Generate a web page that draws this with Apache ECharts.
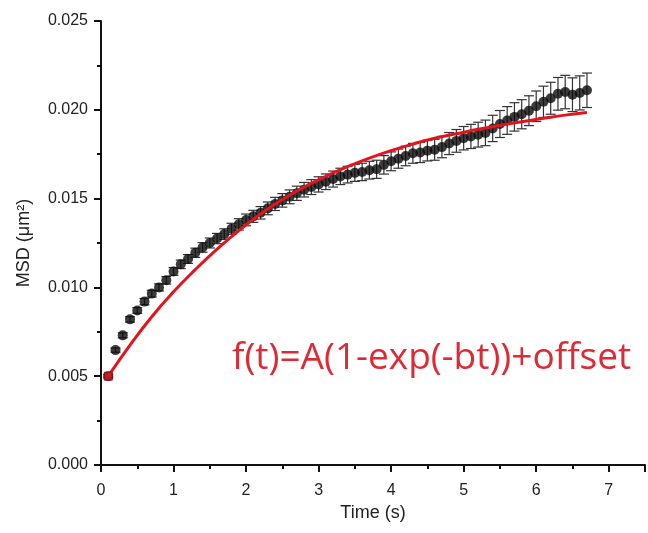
<!DOCTYPE html>
<html>
<head>
<meta charset="utf-8">
<script src="https://cdn.jsdelivr.net/npm/echarts@6/dist/echarts.min.js"></script>
<style>
  html, body { margin: 0; padding: 0; background: #fff; }
  #chart { width: 648px; height: 533px; }
</style>
</head>
<body>
<div id="chart"></div>
<script>
// Time points (s)
const timeS = [
  0.1, 0.2, 0.3, 0.4, 0.5, 0.6, 0.7, 0.8, 0.9, 1.0,
  1.1, 1.2, 1.3, 1.4, 1.5, 1.6, 1.7, 1.8, 1.9, 2.0,
  2.1, 2.2, 2.3, 2.4, 2.5, 2.6, 2.7, 2.8, 2.9, 3.0,
  3.1, 3.2, 3.3, 3.4, 3.5, 3.6, 3.7, 3.8, 3.9, 4.0,
  4.1, 4.2, 4.3, 4.4, 4.5, 4.6, 4.7, 4.8, 4.9, 5.0,
  5.1, 5.2, 5.3, 5.4, 5.5, 5.6, 5.7, 5.8, 5.9, 6.0,
  6.1, 6.2, 6.3, 6.4, 6.5, 6.6, 6.7
];
// Mean squared displacement (um^2)
const msd = [
  0.00500, 0.00647, 0.00730, 0.00820, 0.00870, 0.00920, 0.00965, 0.01000, 0.01040, 0.01090,
  0.01130, 0.01160, 0.01195, 0.01225, 0.01250, 0.01275, 0.01300, 0.01330, 0.01355, 0.01380,
  0.01400, 0.01420, 0.01445, 0.01470, 0.01490, 0.01510, 0.01530, 0.01550, 0.01565, 0.01580,
  0.01595, 0.01610, 0.01625, 0.01635, 0.01645, 0.01650, 0.01660, 0.01665, 0.01690, 0.01710,
  0.01725, 0.01740, 0.01755, 0.01760, 0.01770, 0.01775, 0.01790, 0.01810, 0.01825, 0.01840,
  0.01850, 0.01860, 0.01870, 0.01895, 0.01920, 0.01940, 0.01960, 0.01975, 0.01995, 0.02020,
  0.02045, 0.02065, 0.02090, 0.02100, 0.02085, 0.02095, 0.02110
];
// Standard error of each MSD value (um^2)
const msdErr = [
  0.00010, 0.00012, 0.00014, 0.00015, 0.00016, 0.00018, 0.00019, 0.00020, 0.00021, 0.00022,
  0.00024, 0.00025, 0.00026, 0.00027, 0.00028, 0.00029, 0.00030, 0.00031, 0.00032, 0.00033,
  0.00034, 0.00035, 0.00036, 0.00037, 0.00038, 0.00039, 0.00040, 0.00041, 0.00042, 0.00043,
  0.00044, 0.00045, 0.00046, 0.00047, 0.00048, 0.00049, 0.00050, 0.00051, 0.00052, 0.00053,
  0.00054, 0.00055, 0.00056, 0.00057, 0.00058, 0.00059, 0.00060, 0.00062, 0.00064, 0.00066,
  0.00068, 0.00070, 0.00072, 0.00074, 0.00076, 0.00078, 0.00080, 0.00082, 0.00084, 0.00086,
  0.00088, 0.00090, 0.00092, 0.00094, 0.00095, 0.00096, 0.00097
];
// Fitted curve f(t) = A(1-exp(-bt)) + offset, sampled every 0.3 s
const fitT = [0.1, 0.4, 0.7, 1.0, 1.3, 1.6, 1.9, 2.2, 2.5, 2.8, 3.1, 3.4, 3.7, 4.0, 4.3, 4.6, 4.9, 5.2, 5.5, 5.8, 6.1, 6.4, 6.7];
const fitMsd = [
  0.00500, 0.00675, 0.00835, 0.00975, 0.01100, 0.01215, 0.01320, 0.01413, 0.01495, 0.01565,
  0.01625, 0.01680, 0.01728, 0.01770, 0.01807, 0.01840, 0.01865, 0.01890, 0.01912, 0.01933,
  0.01952, 0.01970, 0.01985
];
const xLabels = [0, 1, 2, 3, 4, 5, 6, 7];
const fitLabel = 'f(t)=A(1-exp(-bt))+offset';

const points = timeS.map((t, i) => [t, msd[i]]);
const bars = timeS.map((t, i) => [t, msd[i] - msdErr[i], msd[i] + msdErr[i]]);
const fitLine = fitT.map((t, i) => [t, fitMsd[i]]);

const axisFont = { fontFamily: 'Liberation Sans, Arial, sans-serif', color: '#222' };

const chart = echarts.init(document.getElementById('chart'), null, { renderer: 'canvas' });
chart.setOption({
  animation: false,
  backgroundColor: '#fff',
  grid: { left: 101, right: 0.5, top: 21, bottom: 68, containLabel: false },
  xAxis: [
    {
      type: 'value', min: 0, max: 7.5, interval: 0.5,
      name: 'Time (s)', nameLocation: 'middle', nameGap: 39,
      nameTextStyle: Object.assign({ fontSize: 18 }, axisFont),
      axisLine: { show: true, onZero: false, lineStyle: { color: '#111', width: 2 } },
      axisTick: { show: true, length: 4, lineStyle: { color: '#111', width: 2 } },
      axisLabel: {
        fontSize: 16, margin: 18, ...axisFont,
        formatter: v => (xLabels.indexOf(v) >= 0 ? String(v) : '')
      },
      splitLine: { show: false }
    },
    {
      type: 'value', min: 0, max: 7.5, interval: 1, position: 'bottom',
      axisLine: { show: false },
      axisTick: { show: true, length: 7, lineStyle: { color: '#111', width: 2 } },
      axisLabel: { show: false },
      splitLine: { show: false }
    }
  ],
  yAxis: {
    type: 'value', min: 0, max: 0.025, interval: 0.005,
    name: 'MSD (μm²)', nameLocation: 'middle', nameGap: 68,
    nameTextStyle: Object.assign({ fontSize: 18 }, axisFont),
    axisLine: { show: true, lineStyle: { color: '#111', width: 2 } },
    axisTick: { show: true, length: 7, lineStyle: { color: '#111', width: 2 } },
    minorTick: { show: true, splitNumber: 2, length: 4, lineStyle: { color: '#111', width: 2 } },
    axisLabel: { fontSize: 16, margin: 13, ...axisFont, formatter: v => v.toFixed(3) },
    splitLine: { show: false }
  },
  graphic: [{
    type: 'text', left: 232, top: 340, z: 100,
    style: {
      text: fitLabel, fill: '#de2a35',
      font: '37px "Open Sans", "Noto Sans", sans-serif'
    }
  }],
  series: [
    {
      name: 'error', type: 'custom', z: 2,
      data: bars,
      renderItem: (params, api) => {
        const t = api.value(0);
        const lo = api.coord([t, api.value(1)]);
        const hi = api.coord([t, api.value(2)]);
        const cap = 5;
        const style = { stroke: '#333', lineWidth: 1.2 };
        return {
          type: 'group',
          children: [
            { type: 'line', shape: { x1: lo[0], y1: lo[1], x2: hi[0], y2: hi[1] }, style },
            { type: 'line', shape: { x1: hi[0] - cap, y1: hi[1], x2: hi[0] + cap, y2: hi[1] }, style },
            { type: 'line', shape: { x1: lo[0] - cap, y1: lo[1], x2: lo[0] + cap, y2: lo[1] }, style }
          ]
        };
      },
      encode: { x: 0, y: [1, 2] }
    },
    {
      name: 'MSD', type: 'scatter', z: 3,
      data: points, symbol: 'circle', symbolSize: 10,
      itemStyle: { color: '#0a0a0a' }
    },
    {
      name: 'fit', type: 'line', z: 4,
      data: fitLine, smooth: 0.5, showSymbol: false,
      lineStyle: { color: '#e4141e', width: 3 }
    },
    {
      name: 'start', type: 'scatter', z: 5,
      data: [fitLine[0]], symbol: 'rect', symbolSize: 8,
      itemStyle: { color: '#e4141e', borderColor: '#6a1010', borderWidth: 1 }
    }
  ]
});
</script>
</body>
</html>
